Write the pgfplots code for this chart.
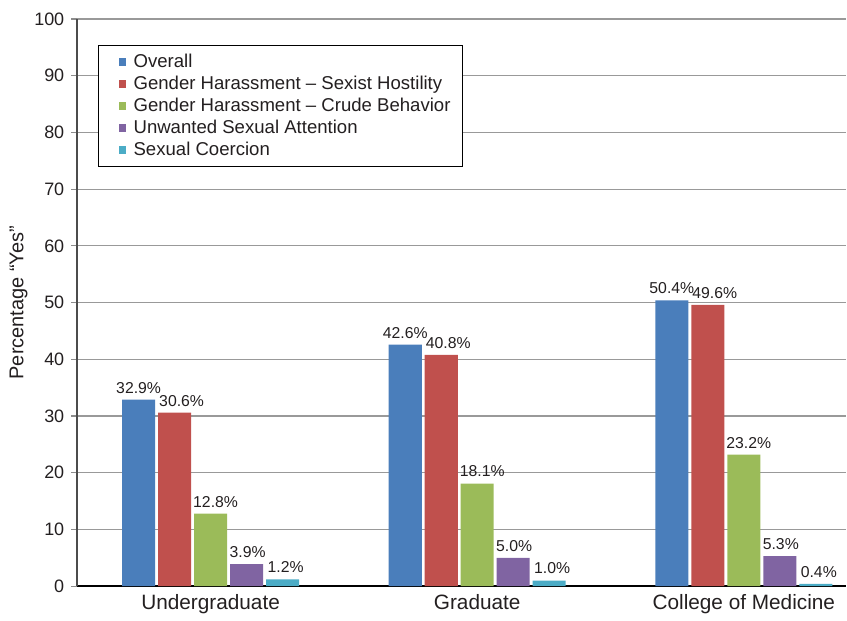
\documentclass[border=0pt]{standalone}
\usepackage{pgfplots}
\pgfplotsset{compat=1.18}
\usepackage{fontspec}
\setmainfont{Liberation Sans}
\definecolor{cA}{HTML}{4A7EBB}
\definecolor{cB}{HTML}{C0504D}
\definecolor{cC}{HTML}{9BBB59}
\definecolor{cD}{HTML}{8064A2}
\definecolor{cE}{HTML}{4BACC6}
\definecolor{txt}{HTML}{231F20}
\begin{document}
\begin{tikzpicture}
\begin{axis}[name=ax,
  scale only axis, width=385pt, height=284pt,
  xmin=-0.5, xmax=2.384, ymin=0, ymax=100,
  ytick={0,10,...,100},
  xtick={0,1,2}, xticklabels={Undergraduate,Graduate,College of Medicine},
  axis x line*=bottom, axis y line*=left,
  x axis line style={black, line width=0.8pt},
  y axis line style={black!70, line width=0.8pt},
  xtick style={draw=none},
  ytick style={black!45, line width=0.6pt},
  tick align=outside, major tick length=3pt,
  ymajorgrids, grid style={black!40, line width=0.6pt},
  /pgf/number format/assume math mode=true,
  yticklabel style={font=\fontsize{9}{11}\selectfont, text=txt},
  xticklabel style={font=\fontsize{10.4}{12}\selectfont, text=txt, yshift=2.5pt},
  ylabel={Percentage “Yes”},
  ylabel style={font=\fontsize{10}{12}\selectfont, text=txt, yshift=-3.5pt},
  ybar, bar width=0.124,
  nodes near coords={\pgfmathprintnumber[fixed,precision=1,fixed zerofill]{\pgfplotspointmeta}\%},
  nodes near coords style={font=\fontsize{7.9}{9}\selectfont, text=txt, inner sep=1.5pt, yshift=1.5pt},
  legend style={at={(0.027,0.954)}, anchor=north west, draw=black, line width=0.6pt,
    font=\fontsize{9.3}{11}\selectfont, text=txt, row sep=-1.2pt, inner xsep=4pt, inner ysep=2pt},
  legend cell align=left,
  legend image code/.code={\path (0pt,0pt) (11.5pt,0pt); \fill[#1] (6pt,-1.9pt) rectangle (9.8pt,1.9pt);},
]
\addplot[fill=cA, draw=none, bar shift=-0.27] coordinates {(0,32.9) (1,42.6) (2,50.4)};
\addplot[fill=cB, draw=none, bar shift=-0.135, nodes near coords style={xshift=3.5pt}] coordinates {(0,30.6) (1,40.8) (2,49.6)};
\addplot[fill=cC, draw=none, bar shift=0, nodes near coords style={xshift=2.5pt}] coordinates {(0,12.8) (1,18.1) (2,23.2)};
\addplot[fill=cD, draw=none, bar shift=0.135, nodes near coords style={xshift=0.5pt}] coordinates {(0,3.9) (1,5.0) (2,5.3)};
\addplot[fill=cE, draw=none, bar shift=0.27, nodes near coords style={xshift=1.5pt}] coordinates {(0,1.2) (1,1.0) (2,0.4)};
\legend{Overall, Gender Harassment – Sexist Hostility, Gender Harassment – Crude Behavior, Unwanted Sexual Attention, Sexual Coercion}
\end{axis}
\path (ax.outer north) ++(0,3pt);
\path (ax.outer west) ++(-1.5pt,0);
\end{tikzpicture}
\end{document}
